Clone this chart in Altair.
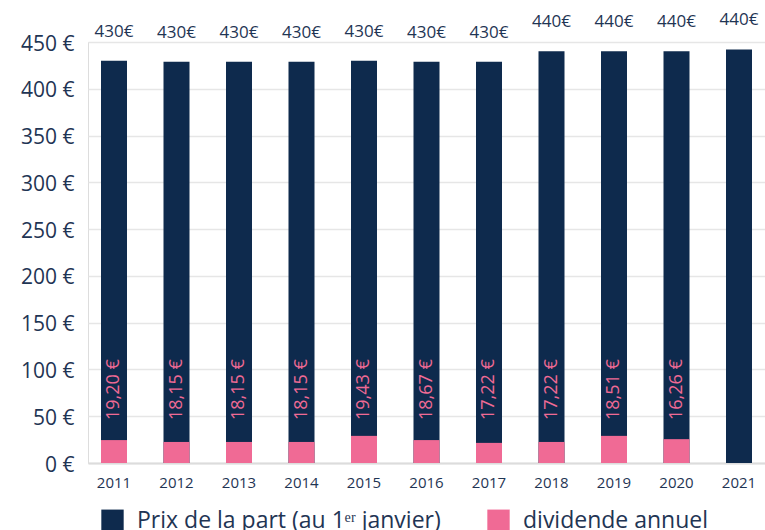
import altair as alt
import pandas as pd

years = ["2011", "2012", "2013", "2014", "2015", "2016", "2017", "2018", "2019", "2020", "2021"]
price = [430, 429, 429, 429, 430, 429, 429, 440, 440, 440, 442]
price_labels = ["430€", "430€", "430€", "430€", "430€", "430€", "430€", "440€", "440€", "440€", "440€"]
dividend_bar = [24.5, 22.5, 22.5, 22.5, 29, 24.5, 21.5, 22.5, 29, 25.5, None]
dividend_labels = ["19,20 €", "18,15 €", "18,15 €", "18,15 €", "19,43 €", "18,67 €", "17,22 €", "17,22 €", "18,51 €", "16,26 €", ""]
series = ["Prix de  la part (au 1ᵉʳ janvier)", "dividende annuel"]

NAVY = "#0e2a4d"
PINK = "#f06a95"
TXT = "#1f3554"
FONT = "Open Sans"

df = pd.DataFrame({
    "year": years,
    "price": price,
    "plabel": price_labels,
    "div": dividend_bar,
    "dlabel": dividend_labels,
})

xenc = alt.X("year:N", sort=years,
             scale=alt.Scale(paddingInner=0.584, paddingOuter=0.208),
             axis=alt.Axis(title=None, labelAngle=0, ticks=False, labelFontSize=15,
                           labelColor=TXT, labelFont=FONT, labelPadding=12,
                           domainColor="#dcdcdc", domainWidth=2, grid=False))
yscale = alt.Scale(domain=[0, 450], nice=False)
yaxis = alt.Axis(title=None, values=[0, 50, 100, 150, 200, 250, 300, 350, 400, 450],
                 labelExpr="datum.value + ' €'", ticks=False, domain=False,
                 labelFontSize=21, labelColor=TXT, labelFont=FONT, labelPadding=14,
                 labelOffset=2, gridColor="#e6e6e6", gridWidth=1.5)
color = alt.Color("serie:N", scale=alt.Scale(domain=series, range=[NAVY, PINK]),
                  legend=alt.Legend(title=None, orient="none", direction="horizontal",
                                    legendX=13, legendY=467, symbolType="square",
                                    symbolSize=500, symbolStrokeWidth=0, symbolOpacity=1,
                                    labelFontSize=23, labelColor=TXT, labelFont=FONT,
                                    labelLimit=600,
                                    labelOffset=13, columnPadding=40, padding=0))

base = alt.Chart(df)

dark = base.transform_calculate(serie=f"'{series[0]}'").mark_bar(opacity=1).encode(
    x=xenc, y=alt.Y("price:Q", scale=yscale, axis=yaxis), color=color)

pink = base.transform_filter("isValid(datum.div)").transform_calculate(
    serie=f"'{series[1]}'").mark_bar(opacity=1).encode(
    x=xenc, y=alt.Y("div:Q", scale=yscale), color=color)

top_lbl = base.mark_text(fontSize=17, color=TXT, font=FONT, baseline="alphabetic",
                         dy=-24).encode(x=xenc, y=alt.Y("price:Q", scale=yscale),
                                        text="plabel:N")

div_lbl = base.mark_text(fontSize=18, color=PINK, font=FONT, angle=270, align="left",
                         baseline="middle").encode(
    x=xenc, y=alt.datum(46), text="dlabel:N")

chart = alt.layer(dark, pink, top_lbl, div_lbl).properties(
    width=677, height=421,
    autosize=alt.AutoSizeParams(type="none"),
    padding={"left": 88, "top": 42, "right": 0, "bottom": 67},
).configure_view(stroke=None).configure(background="white")

chart.save("out.html", embed_options={"renderer": "svg", "actions": False})
